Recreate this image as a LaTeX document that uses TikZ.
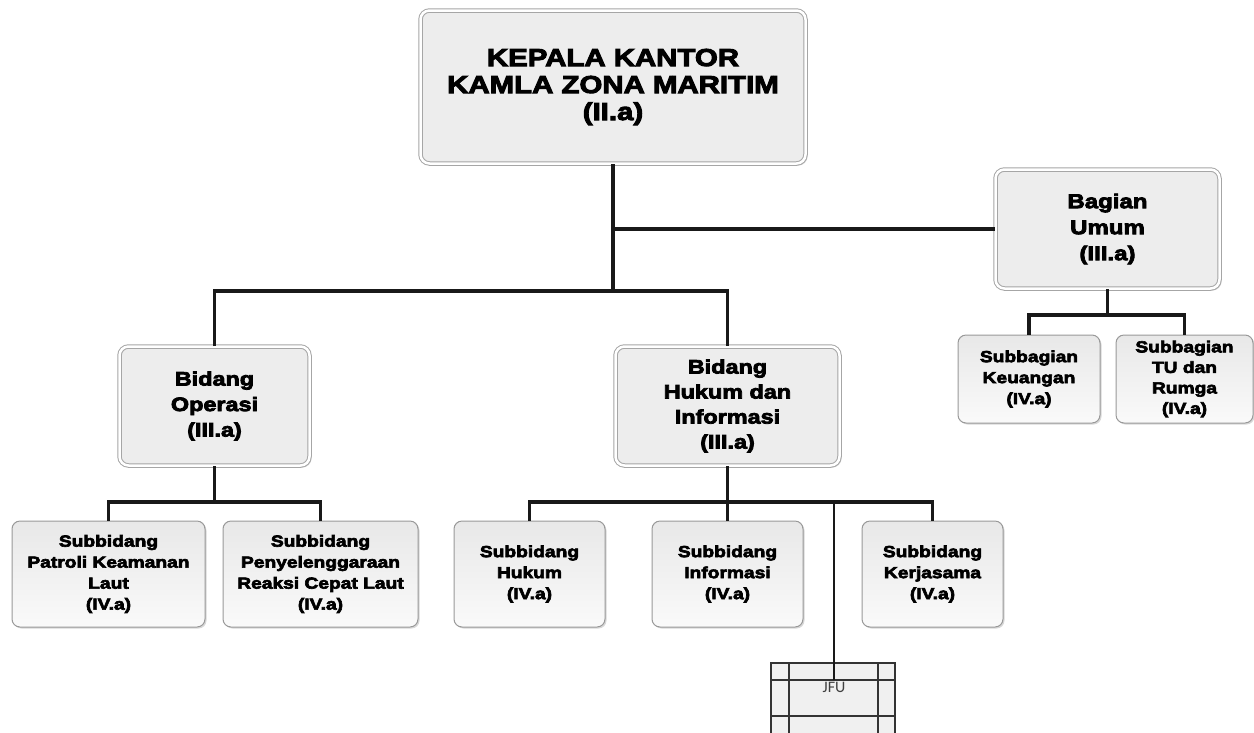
\documentclass[tikz,border=0pt]{standalone}
\usepackage{fontspec}
\newfontfamily\boxfont[FakeStretch=1.2,FakeBold=4]{Liberation Sans Bold}
\newfontfamily\jfufont{Carlito}
\usetikzlibrary{shadows}
\tikzset{conn/.style = {line width=3.5pt, black!90}}
\tikzset{thinconn/.style = {line width=2pt, black!90}}
\tikzset{headbox/.style = {draw=black!35, line width=1pt, double=white, double distance=2.5pt,
    rounded corners=9pt, fill=black!7, align=center, inner sep=0pt,
    drop shadow={shadow xshift=2pt, shadow yshift=-2pt, opacity=0.25, fill=black!60}}}
\tikzset{subbox/.style = {draw=black!40, line width=1pt, rounded corners=8pt,
    top color=black!9, bottom color=black!2, align=center, inner sep=0pt,
    minimum height=106, drop shadow={shadow xshift=1.5pt, shadow yshift=-1.5pt, opacity=0.25, fill=black!60}}}
\tikzset{grid/.style = {draw=black!80, line width=1.5pt, fill=black!6}}

\begin{document}
\begin{tikzpicture}[x=1pt, y=-1pt]
  \useasboundingbox (0,0) rectangle (1254,732);
  \fill[white] (0,0) rectangle (1254,732);

  \node[headbox, minimum width=385, minimum height=153, font=\boxfont\fontsize{24.5}{27}\selectfont]
    (kepala) at (613,87) {KEPALA KANTOR\\KAMLA ZONA MARITIM\\(II.a)};
  \node[headbox, minimum width=224, minimum height=119, font=\boxfont\fontsize{20}{26}\selectfont]
    (umum) at (1107.5,229) {Bagian\\Umum\\(III.a)};
  \node[headbox, minimum width=190, minimum height=119, font=\boxfont\fontsize{19.5}{25.5}\selectfont]
    (operasi) at (214.5,406) {Bidang\\Operasi\\(III.a)};
  \node[headbox, minimum width=224, minimum height=119, font=\boxfont\fontsize{19.5}{25}\selectfont]
    (hukum) at (727.5,406) {Bidang\\Hukum dan\\Informasi\\(III.a)};

  \node[subbox, minimum width=193, font=\boxfont\fontsize{16}{21}\selectfont]
    (patroli) at (108.5,574) {Subbidang\\Patroli Keamanan\\Laut\\(IV.a)};
  \node[subbox, minimum width=195, font=\boxfont\fontsize{16}{21}\selectfont]
    (reaksi) at (320.5,574) {Subbidang\\Penyelenggaraan\\Reaksi Cepat Laut\\(IV.a)};
  \node[subbox, minimum width=151, font=\boxfont\fontsize{16}{21}\selectfont]
    (subhukum) at (529.5,574) {Subbidang\\Hukum\\(IV.a)};
  \node[subbox, minimum width=151, font=\boxfont\fontsize{16}{21}\selectfont]
    (informasi) at (727.5,574) {Subbidang\\Informasi\\(IV.a)};
  \node[subbox, minimum width=141, font=\boxfont\fontsize{16}{21}\selectfont]
    (kerjasama) at (932.5,574) {Subbidang\\Kerjasama\\(IV.a)};
  \node[subbox, minimum width=142, minimum height=88, font=\boxfont\fontsize{16}{21}\selectfont]
    (keuangan) at (1029,379) {Subbagian\\Keuangan\\(IV.a)};
  \node[subbox, minimum width=137, minimum height=88, font=\boxfont\fontsize{16}{20.5}\selectfont]
    (tu) at (1184.5,379) {Subbagian\\TU dan\\Rumga\\(IV.a)};

  % JFU, cut off at the bottom
  \begin{scope}
    \clip (0,0) rectangle (1254,732);
    \filldraw[grid] (771,663) rectangle (895,750);
    \draw[grid] (789,663) -- (789,750) (878,663) -- (878,750)
      (771,680) -- (895,680) (771,716) -- (895,716);
  \end{scope}
  \node[anchor=north, inner ysep=2.5pt, font=\jfufont\fontsize{16}{16}\selectfont, text=black!75]
    (jfu) at (834,680) {JFU};

  \coordinate (j1) at (613,291);
  \coordinate (j2) at (214.5,502);
  \coordinate (j3) at (727.5,502);
  \coordinate (j4) at (1107.5,315);

  \draw[conn] (kepala.south) -- (j1);
  \draw[conn] (kepala.south) |- (umum.west);
  \draw[conn] (operasi.north) |- (j1) -| (hukum.north);
  \draw[conn] (operasi.south) -- (j2);
  \draw[conn] (patroli.north) |- (j2) -| (reaksi.north);
  \draw[conn] (hukum.south) -- (j3);
  \draw[conn] (subhukum.north) |- (j3) -| (kerjasama.north);
  \draw[conn] (j3) -- (informasi.north);
  \draw[thinconn] (jfu.north) -- (jfu.north |- j3);
  \draw[conn] (umum.south) -- (j4);
  \draw[conn] (keuangan.north) |- (j4) -| (tu.north);
\end{tikzpicture}
\end{document}
